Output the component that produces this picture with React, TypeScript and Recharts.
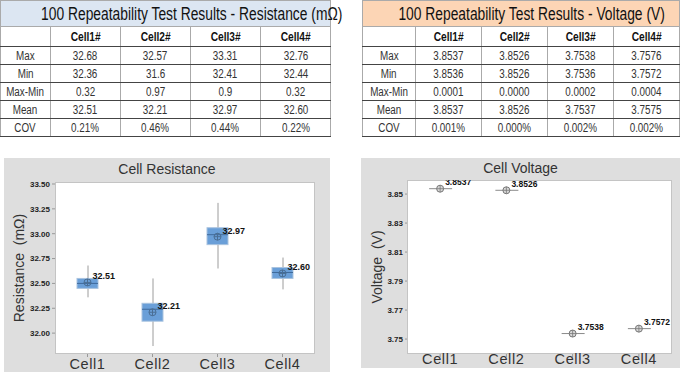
import React from 'react';
import { ComposedChart, Bar, Scatter, XAxis, YAxis } from 'recharts';

// ---------- Data ----------
const cells = ['Cell1', 'Cell2', 'Cell3', 'Cell4'];
const tableCols = ['Cell1#', 'Cell2#', 'Cell3#', 'Cell4#'];
const rowLabels = ['Max', 'Min', 'Max-Min', 'Mean', 'COV'];

const resMax = ['32.68', '32.57', '33.31', '32.76'];
const resMin = ['32.36', '31.6', '32.41', '32.44'];
const resRange = ['0.32', '0.97', '0.9', '0.32'];
const resMeanTxt = ['32.51', '32.21', '32.97', '32.60'];
const resCov = ['0.21%', '0.46%', '0.44%', '0.22%'];

const volMax = ['3.8537', '3.8526', '3.7538', '3.7576'];
const volMin = ['3.8536', '3.8526', '3.7536', '3.7572'];
const volRange = ['0.0001', '0.0000', '0.0002', '0.0004'];
const volMeanTxt = ['3.8537', '3.8526', '3.7537', '3.7575'];
const volCov = ['0.001%', '0.000%', '0.002%', '0.002%'];

// box plot values
const resWhiskerLow = [32.36, 31.87, 32.65, 32.44];
const resWhiskerHigh = [32.68, 32.55, 33.31, 32.76];
const resQ1 = [32.45, 32.12, 32.89, 32.55];
const resQ3 = [32.55, 32.3, 33.06, 32.66];
const resMedian = [32.5, 32.24, 32.99, 32.61];
const resMean = [32.51, 32.21, 32.97, 32.6];
const resLabels = ['32.51', '32.21', '32.97', '32.60'];
const resTicks = [32.0, 32.25, 32.5, 32.75, 33.0, 33.25, 33.5];

const volPoint = [3.8537, 3.8526, 3.7538, 3.7572];
const volLabels = ['3.8537', '3.8526', '3.7538', '3.7572'];
const volTicks = [3.75, 3.77, 3.79, 3.81, 3.83, 3.85];

const resData = cells.map((name, i) => ({
  name,
  whisker: [resWhiskerLow[i], resWhiskerHigh[i]],
  box: [resQ1[i], resQ3[i]],
  median: resMedian[i],
  mean: resMean[i],
  label: resLabels[i],
}));

const volData = cells.map((name, i) => ({ name, v: volPoint[i], label: volLabels[i] }));

const resRows = [resMax, resMin, resRange, resMeanTxt, resCov];
const volRows = [volMax, volMin, volRange, volMeanTxt, volCov];

// ---------- Table ----------
const sans = '"Liberation Sans", Arial, sans-serif';

function Squeeze({ children, sx }: any) {
  return (
    <span style={{ display: 'inline-block', whiteSpace: 'nowrap', transform: `scaleX(${sx})`, transformOrigin: 'center' }}>
      {children}
    </span>
  );
}

function StatTable({ title, titleBg, rows, firstColW, colW }: any) {
  const cellBase: React.CSSProperties = {
    borderBottom: '1px solid #444',
    borderRight: '1px solid #aaa',
    textAlign: 'center',
    padding: 0,
    height: 17,
    fontSize: 12,
    lineHeight: '12px',
    color: '#333',
    fontFamily: sans,
    whiteSpace: 'nowrap',
    overflow: 'visible',
  };
  return (
    <table style={{ borderCollapse: 'collapse', tableLayout: 'fixed', width: firstColW + colW * 4 }}>
      <colgroup>
        <col style={{ width: firstColW }} />
        {tableCols.map((c) => (
          <col key={c} style={{ width: colW }} />
        ))}
      </colgroup>
      <tbody>
        <tr>
          <td
            colSpan={5}
            style={{
              background: titleBg,
              height: 25,
              textAlign: 'center',
              fontSize: 17.5,
              lineHeight: '18px',
              fontFamily: sans,
              color: '#111',
              border: '1px solid #aaa',
              padding: 0,
              whiteSpace: 'nowrap',
            }}
          >
            <Squeeze sx={0.79}>{title}</Squeeze>
          </td>
        </tr>
        <tr>
          <td style={{ ...cellBase, borderLeft: '1px solid #aaa', height: 19 }}></td>
          {tableCols.map((c) => (
            <td key={c} style={{ ...cellBase, height: 19, fontWeight: 'bold', color: '#111' }}>
              <Squeeze sx={0.85}>{c}</Squeeze>
            </td>
          ))}
        </tr>
        {rowLabels.map((r, ri) => (
          <tr key={r}>
            <td style={{ ...cellBase, borderLeft: '1px solid #aaa' }}>
              <Squeeze sx={0.82}>{r}</Squeeze>
            </td>
            {rows[ri].map((v: string, ci: number) => (
              <td key={ci} style={cellBase}>
                <Squeeze sx={0.82}>{v}</Squeeze>
              </td>
            ))}
          </tr>
        ))}
      </tbody>
    </table>
  );
}

// ---------- Chart shapes ----------
const WhiskerShape = (props: any) => {
  const { x, y, width, height } = props;
  const cx = x + width / 2;
  return <line x1={cx} x2={cx} y1={y} y2={y + height} stroke="#9c9c9c" strokeWidth={1} />;
};

const BoxShape = (props: any) => {
  const { x, y, width, height, payload } = props;
  const [q1, q3] = payload.box;
  const my = y + ((q3 - payload.median) / (q3 - q1)) * height;
  return (
    <g>
      <rect x={x} y={y} width={width} height={height} fill="#6a9fd8" stroke="#a9c3df" strokeWidth={1} />
      <line x1={x} x2={x + width} y1={my} y2={my} stroke="#3f6a9a" strokeWidth={1} />
    </g>
  );
};

const labelFont = '"Liberation Sans", Arial, sans-serif';

const MeanShape = (props: any) => {
  const { cx, cy, payload } = props;
  return (
    <g>
      <circle cx={cx} cy={cy} r={3.5} fill="none" stroke="#4a6e94" strokeWidth={1} />
      <line x1={cx - 3.5} x2={cx + 3.5} y1={cy} y2={cy} stroke="#4a6e94" strokeWidth={1} />
      <line x1={cx} x2={cx} y1={cy - 3.5} y2={cy + 3.5} stroke="#4a6e94" strokeWidth={1} />
      <text x={cx + 5} y={cy - 3} fontSize={9} fontWeight="bold" fill="#111" fontFamily={labelFont}>
        {payload.label}
      </text>
    </g>
  );
};

const VoltShape = (props: any) => {
  const { cx, cy, payload } = props;
  return (
    <g>
      <line x1={cx - 11} x2={cx + 12} y1={cy} y2={cy} stroke="#8a8a8a" strokeWidth={1} />
      <circle cx={cx} cy={cy} r={3.5} fill="#d8d8d8" stroke="#777" strokeWidth={1} />
      <line x1={cx - 3.5} x2={cx + 3.5} y1={cy} y2={cy} stroke="#777" strokeWidth={0.8} />
      <line x1={cx} x2={cx} y1={cy - 3.5} y2={cy + 3.5} stroke="#777" strokeWidth={0.8} />
      <text x={cx + 5} y={cy - 3.5} fontSize={8.5} fontWeight="bold" fill="#111" fontFamily={labelFont}>
        {payload.label}
      </text>
    </g>
  );
};

const makeXTick = (dy: number) => (props: any) => {
  const { x, y, payload } = props;
  return (
    <text x={x} y={y} dy={dy} textAnchor="middle" fontSize={14.5} fill="#333" fontFamily={sans} letterSpacing={0.6}>
      {payload.value}
    </text>
  );
};

const yTickStyle = { fontSize: 8, fontWeight: 'bold' as const, fill: '#222', fontFamily: labelFont };

const panelTitle: React.CSSProperties = {
  position: 'absolute',
  left: 0,
  width: '100%',
  textAlign: 'center',
  fontSize: 14,
  lineHeight: '16px',
  color: '#333',
  fontFamily: sans,
};

function YLabel({ text, left, top }: any) {
  return (
    <div style={{ position: 'absolute', left, top, width: 0, height: 0 }}>
      <div
        style={{
          position: 'absolute',
          transform: 'translate(-50%, -50%) rotate(-90deg)',
          whiteSpace: 'pre',
          fontSize: 14,
          lineHeight: '16px',
          color: '#333',
          fontFamily: sans,
        }}
      >
        {text}
      </div>
    </div>
  );
}

export default function App() {
  return (
    <div style={{ position: 'absolute', left: 0, top: 0, width: 694, height: 383, background: '#fff', overflow: 'hidden' }}>
      <div style={{ position: 'absolute', left: 0, top: 0 }}>
        <StatTable title="100 Repeatability Test Results - Resistance (mΩ)" titleBg="#dce6f2" rows={resRows} firstColW={50} colW={70} />
      </div>
      <div style={{ position: 'absolute', left: 362, top: 0 }}>
        <StatTable title="100 Repeatability Test Results - Voltage (V)" titleBg="#fcd5b5" rows={volRows} firstColW={53} colW={66} />
      </div>

      {/* Resistance panel */}
      <div style={{ position: 'absolute', left: 4, top: 158, width: 326, height: 214, background: '#dedede' }}>
        <div style={{ ...panelTitle, top: 3 }}>Cell Resistance</div>
        <div style={{ position: 'absolute', left: 51, top: 24, width: 260, height: 172, background: '#fff', border: '1px solid #c4c4c4', boxSizing: 'border-box' }} />
        <YLabel text="Resistance  (mΩ)" left={15} top={110} />
        <div style={{ position: 'absolute', left: 0, top: 0 }}>
          <ComposedChart width={326} height={224} data={resData} margin={{ top: 24, right: 15, left: 0, bottom: 0 }}>
            <XAxis xAxisId="w" dataKey="name" hide />
            <XAxis xAxisId="b" dataKey="name" height={28} axisLine={false} tickLine={{ stroke: '#999' }} tickSize={3} tickMargin={0} tick={makeXTick(12)} interval={0} />
            <YAxis
              width={51}
              domain={[31.79, 33.52]}
              ticks={resTicks}
              allowDataOverflow
              axisLine={false}
              tickLine={{ stroke: '#999' }}
              tickSize={3}
              tickMargin={2}
              tick={yTickStyle}
              tickFormatter={(v: number) => v.toFixed(2)}
            />
            <Bar xAxisId="w" dataKey="whisker" barSize={2} shape={WhiskerShape} isAnimationActive={false} />
            <Bar xAxisId="b" dataKey="box" barSize={21} shape={BoxShape} isAnimationActive={false} />
            <Scatter xAxisId="b" dataKey="mean" shape={MeanShape} isAnimationActive={false} />
          </ComposedChart>
        </div>
      </div>

      {/* Voltage panel */}
      <div style={{ position: 'absolute', left: 361, top: 158, width: 319, height: 210, background: '#dedede' }}>
        <div style={{ ...panelTitle, top: 2 }}>Cell Voltage</div>
        <div style={{ position: 'absolute', left: 46, top: 22, width: 265, height: 174, background: '#fff', border: '1px solid #c4c4c4', boxSizing: 'border-box' }} />
        <YLabel text="Voltage  (V)" left={16} top={109} />
        <div style={{ position: 'absolute', left: 0, top: 0 }}>
          <ComposedChart width={319} height={224} data={volData} margin={{ top: 22, right: 8, left: 0, bottom: 0 }}>
            <XAxis dataKey="name" scale="band" height={28} axisLine={false} tickLine={{ stroke: '#999' }} tickSize={3} tickMargin={0} tick={makeXTick(7)} interval={0} />
            <YAxis
              width={46}
              domain={[3.7397, 3.8597]}
              ticks={volTicks}
              allowDataOverflow
              axisLine={false}
              tickLine={{ stroke: '#999' }}
              tickSize={2}
              tickMargin={2}
              tick={yTickStyle}
              tickFormatter={(v: number) => v.toFixed(2)}
            />
            <Scatter dataKey="v" shape={VoltShape} isAnimationActive={false} />
          </ComposedChart>
        </div>
      </div>
    </div>
  );
}
